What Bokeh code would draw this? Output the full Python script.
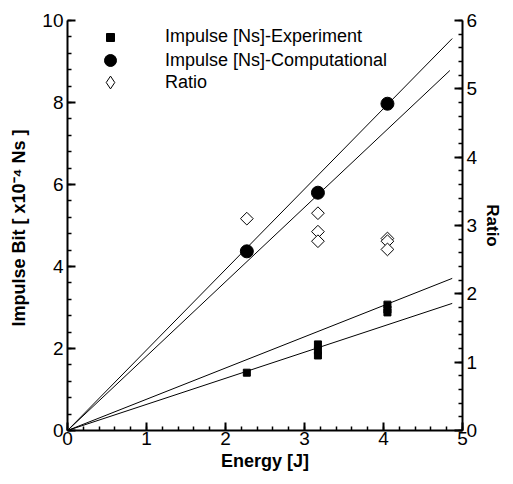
import math
from bokeh.plotting import figure
from bokeh.models import Range1d, LinearAxis, SingleIntervalTicker, Legend, LegendItem
from bokeh.embed import file_html
from bokeh.resources import INLINE

# Experimental impulse bits [x1e-4 Ns]
exp_energy = [2.27, 3.17, 3.17, 3.17, 4.05, 4.05, 4.05]
exp_impulse = [1.41, 1.83, 1.95, 2.10, 2.88, 2.95, 3.07]

# Computational impulse bits [x1e-4 Ns]
comp_energy = [2.27, 3.17, 4.05]
comp_impulse = [4.37, 5.80, 7.97]

# Ratio (right axis)
ratio_energy = [2.27, 3.17, 3.17, 3.17, 4.05, 4.05, 4.05]
ratio_values = [3.10, 3.18, 2.91, 2.77, 2.81, 2.77, 2.65]

# Fit lines through origin: end energy and end impulse
fit_end_energy = [4.87, 4.84, 4.87, 4.87]
fit_end_impulse = [9.56, 8.78, 3.71, 3.10]

legend_labels = ["Impulse [Ns]-Experiment", "Impulse [Ns]-Computational", "Ratio"]

FONT = "Liberation Sans"

p = figure(width=505, height=476, x_range=Range1d(0, 5), y_range=Range1d(0, 10),
           output_backend="svg", toolbar_location=None,
           min_border_left=67, min_border_right=42, min_border_top=20, min_border_bottom=46)
p.xgrid.visible = False
p.ygrid.visible = False
p.outline_line_color = None
p.background_fill_color = "white"
p.border_fill_color = "white"

p.extra_y_ranges = {"ratio": Range1d(0, 6)}
rax = LinearAxis(y_range_name="ratio", axis_label="Ratio")
p.add_layout(rax, "right")

p.xaxis.axis_label = "Energy [J]"
p.yaxis[0].axis_label = "Impulse Bit  [ x10\u207b\u2074 Ns ]"

p.xaxis.ticker = SingleIntervalTicker(interval=1, num_minor_ticks=5)
p.yaxis[0].ticker = SingleIntervalTicker(interval=2, num_minor_ticks=5)
rax.ticker = SingleIntervalTicker(interval=1, num_minor_ticks=5)

for ax in [p.xaxis[0], p.yaxis[0], rax]:
    ax.axis_line_width = 2
    ax.axis_line_color = "black"
    ax.major_tick_in = 8
    ax.major_tick_out = 0
    ax.minor_tick_in = 4
    ax.minor_tick_out = 0
    ax.major_tick_line_width = 2
    ax.minor_tick_line_width = 1.5
    ax.major_tick_line_color = "black"
    ax.minor_tick_line_color = "black"
    ax.major_label_text_font = FONT
    ax.major_label_text_font_size = "19px"
    ax.major_label_text_color = "black"
    ax.axis_label_text_font = FONT
    ax.axis_label_text_font_size = "18px"
    ax.axis_label_text_font_style = "bold"
    ax.axis_label_text_color = "black"

p.xaxis.major_label_standoff = 1
p.xaxis.axis_label_standoff = 3
p.yaxis[0].major_label_standoff = 4
p.yaxis[0].axis_label_standoff = 10
rax.major_label_standoff = 4
rax.axis_label_standoff = 3
rax.axis_label_text_font_size = "17px"

# fit lines
for e_end, i_end in zip(fit_end_energy, fit_end_impulse):
    p.line([0, e_end], [0, i_end], line_color="black", line_width=1)

r_exp = p.scatter(exp_energy, exp_impulse, marker="square", size=7,
                  fill_color="black", line_color="black")
r_comp = p.scatter(comp_energy, comp_impulse, marker="circle", size=13,
                   fill_color="black", line_color="black")
r_ratio = p.scatter(ratio_energy, ratio_values, marker="square", size=9,
                    angle=math.pi / 4,
                    fill_color="white", line_color="black", line_width=1,
                    y_range_name="ratio")
# legend key for the ratio series (legend keys are drawn unrotated); not drawn in the plot
r_ratio_key = p.scatter([float("nan")], [float("nan")], marker="diamond",
                        fill_color="white", line_color="black", line_width=1,
                        y_range_name="ratio")

# one legend per entry so each key can have its own size
legend_specs = [
    (legend_labels[0], r_exp, 20, (33, 383), 45),
    (legend_labels[1], r_comp, 30, (28, 355), 40),
    (legend_labels[2], r_ratio_key, 32, (27, 332), 39),
]
for label, rend, gsize, loc, standoff in legend_specs:
    lg = Legend(items=[LegendItem(label=label, renderers=[rend])],
                location=loc, border_line_color=None, background_fill_alpha=0,
                glyph_width=gsize, glyph_height=gsize, label_height=20, spacing=0,
                padding=0, margin=0, label_standoff=standoff,
                label_text_font=FONT, label_text_font_size="18px",
                label_text_color="black")
    p.add_layout(lg, "center")

open("out.html", "w").write(file_html(p, INLINE))
